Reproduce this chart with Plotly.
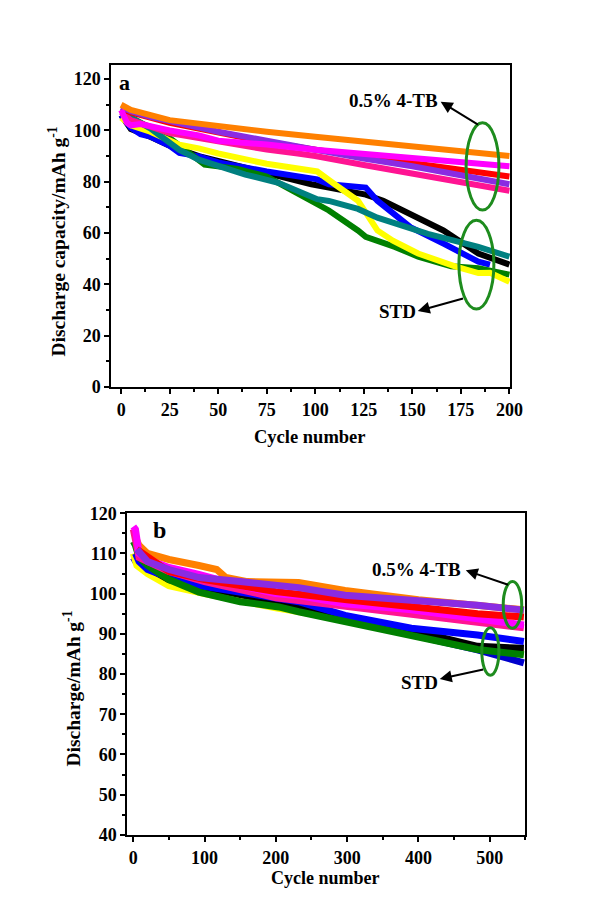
import plotly.graph_objects as go

# ---------------- Panel (a) data : 200 cycles ----------------
a_orange_x = [0, 5, 25, 50, 75, 100, 125, 150, 175, 200]
a_orange_y = [110, 108, 104, 101.5, 99.5, 97.5, 95.5, 93.5, 91.5, 90]

a_pink_x = [0, 5, 25, 50, 75, 91, 100, 125, 150, 175, 200]
a_pink_y = [107, 104, 99, 95.5, 92.5, 91, 90, 86.5, 83, 79.5, 76.5]

a_red_x = [0, 5, 25, 50, 75, 100, 125, 150, 175, 200]
a_red_y = [108.5, 107, 103, 99, 95.5, 92.5, 90, 87.5, 85, 82]

a_violet_x = [0, 5, 15, 25, 50, 75, 91, 100, 125, 150, 175, 200]
a_violet_y = [109, 107.5, 105.3, 103.5, 99.5, 96, 93.7, 92.5, 89, 86, 82.5, 79]

a_magenta_x = [0, 3, 5, 10, 25, 40, 50, 60, 75, 100, 125, 150, 175, 200]
a_magenta_y = [108, 103, 102, 102.5, 100, 98, 96, 95.5, 94.5, 92.5, 91, 89.5, 88, 86]

a_black_x = [0, 5, 15, 25, 40, 50, 75, 98, 107, 126, 135, 149, 166, 184, 200]
a_black_y = [106, 100.5, 97.5, 94, 90, 88, 83.5, 79, 77.7, 75, 72.6, 67.4, 61, 52, 47.7]

a_blue_x = [0, 5, 10, 15, 25, 30, 40, 50, 75, 91, 101, 107, 126, 132, 149, 166, 184, 190]
a_blue_y = [106, 101, 98.5, 97.6, 94, 91.2, 89.9, 87.5, 84, 82.2, 80.9, 79, 77.7, 72.6, 62.3, 55.9, 48.8, 47.7]

a_green_x = [0, 5, 15, 25, 43, 50, 60, 75, 91, 101, 107, 122, 126, 141, 153, 170, 184, 200]
a_green_y = [107, 105, 101, 97, 86.7, 86, 85, 82, 75.5, 71.3, 68.8, 61, 58.5, 54.6, 50.8, 47, 46.3, 43.8]

a_yellow_x = [0, 5, 15, 30, 40, 50, 75, 91, 101, 110, 122, 132, 140, 153, 165, 172, 184, 190, 200]
a_yellow_y = [105, 102, 99.5, 94.4, 93, 91, 87, 85.4, 84, 79, 72.6, 61, 57, 52, 48.5, 47, 44.4, 44.5, 41]

a_teal_x = [0, 5, 15, 30, 40, 50, 64, 81, 91, 101, 107, 122, 132, 158, 184, 200]
a_teal_y = [106.5, 105, 100.8, 92.4, 88.6, 86, 82.8, 79.6, 76.4, 73.2, 72.5, 69.4, 66, 59.7, 54.6, 50.8]

# ---------------- Panel (b) data : 550 cycles ----------------
b_darkblue_x = [0, 5, 20, 50, 100, 200, 300, 400, 483, 548]
b_darkblue_y = [109, 107.5, 105.5, 103, 101, 97.5, 93.5, 89.5, 86, 82.8]

b_yellow_x = [0, 5, 20, 50, 100, 200, 300, 400, 500, 548]
b_yellow_y = [110, 107, 105, 102, 100, 96.5, 93.5, 89.5, 86, 85.5]

b_black_x = [5, 20, 50, 100, 200, 300, 400, 483, 548]
b_black_y = [110, 106.5, 103.5, 101.5, 98, 94, 90.5, 86.9, 86.4]

b_blue_x = [3, 8, 20, 50, 92, 150, 204, 232, 297, 390, 483, 548]
b_blue_y = [110, 108, 106, 104, 102, 100.5, 98.7, 98, 94.6, 91.4, 89.7, 88.1]

b_green_x = [0, 3, 8, 20, 50, 92, 150, 204, 232, 297, 390, 483, 548]
b_green_y = [113, 112, 109, 107, 103.5, 100.4, 98, 96.7, 95.5, 93, 89.3, 86.1, 84.8]

b_orange_x = [3, 8, 20, 50, 92, 117, 130, 160, 232, 297, 400, 483, 548]
b_orange_y = [114, 112, 110, 108.5, 107, 106, 104, 103, 102.8, 100.8, 98.5, 97, 96]

b_pink_x = [0, 8, 50, 100, 200, 300, 400, 483, 548]
b_pink_y = [116, 109, 105.5, 103, 99, 96.8, 94.8, 93, 91.5]

b_magenta_x = [0, 3, 8, 20, 50, 92, 150, 200, 232, 297, 390, 483, 548]
b_magenta_y = [116.7, 116, 110, 108.5, 106.5, 104.8, 102, 100, 99.5, 97.5, 96, 93.8, 92.2]

b_red_x = [5, 50, 100, 200, 300, 400, 483, 548]
b_red_y = [111, 105.5, 103.5, 100.5, 98.5, 96.5, 95, 94.2]

b_violet_x = [5, 20, 50, 92, 150, 204, 232, 297, 390, 483, 548]
b_violet_y = [111, 108, 106, 104, 103, 102, 101.5, 99.6, 98.4, 97.1, 95.9]

# ---------------- Text ----------------
y_title_a = "Discharge capacity/mAh g<sup>-1</sup>"
y_title_b = "Discharge/mAh g<sup>-1</sup>"
x_title = "Cycle number"
label_tb = "0.5% 4-TB"
label_std = "STD"

FONT = "Liberation Serif, Times New Roman, Tinos, serif"

# the photographed page comes out slightly shrunk; place things in that frame
SX = 0.983 * 590
SY = 0.991 * 903
def px(x):
    return x / SX
def py(y):
    return 1 - y / SY

fig = go.Figure()

series_a = [
    (a_black_x, a_black_y, "#000000"),
    (a_blue_x, a_blue_y, "#0000FF"),
    (a_green_x, a_green_y, "#008000"),
    (a_yellow_x, a_yellow_y, "#FFFF00"),
    (a_teal_x, a_teal_y, "#008080"),
    (a_pink_x, a_pink_y, "#FF1493"),
    (a_red_x, a_red_y, "#FF0000"),
    (a_violet_x, a_violet_y, "#8A2BE2"),
    (a_magenta_x, a_magenta_y, "#FF00FF"),
    (a_orange_x, a_orange_y, "#FF8000"),
]
for xs, ys, c in series_a:
    fig.add_trace(go.Scatter(x=xs, y=ys, mode="lines", line=dict(color=c, width=6),
                             xaxis="x", yaxis="y", showlegend=False, hoverinfo="skip"))

series_b = [
    (b_darkblue_x, b_darkblue_y, "#0000CC"),
    (b_yellow_x, b_yellow_y, "#FFFF00"),
    (b_black_x, b_black_y, "#000000"),
    (b_blue_x, b_blue_y, "#0000FF"),
    (b_green_x, b_green_y, "#008000"),
    (b_orange_x, b_orange_y, "#FF8000"),
    (b_pink_x, b_pink_y, "#FF1493"),
    (b_magenta_x, b_magenta_y, "#FF00FF"),
    (b_red_x, b_red_y, "#FF0000"),
    (b_violet_x, b_violet_y, "#8A2BE2"),
]
for xs, ys, c in series_b:
    fig.add_trace(go.Scatter(x=xs, y=ys, mode="lines", line=dict(color=c, width=7),
                             xaxis="x2", yaxis="y2", showlegend=False, hoverinfo="skip"))

axis_common = dict(
    showline=True, linecolor="black", linewidth=2, mirror=True,
    ticks="outside", ticklen=5, tickwidth=2, tickcolor="black",
    showgrid=False, zeroline=False,
    tickfont=dict(family=FONT, size=18, color="black", weight="bold"),
)

fig.update_layout(
    width=590, height=903,
    margin=dict(l=0, r=0, t=0, b=0),
    paper_bgcolor="white", plot_bgcolor="white",
    font=dict(family=FONT, color="black"),
    xaxis=dict(domain=[px(112), px(513)], anchor="y", range=[-5, 200.5], tick0=0, dtick=25,
               minor=dict(ticks="outside", ticklen=3, tickwidth=1.5, dtick=12.5, tick0=0, tickcolor="black"),
               **axis_common),
    yaxis=dict(domain=[py(382), py(56)], anchor="x", range=[0, 125.4], tick0=0, dtick=20,
               minor=dict(ticks="outside", ticklen=3, tickwidth=1.5, dtick=10, tick0=0, tickcolor="black"),
               **axis_common),
    xaxis2=dict(domain=[px(128), px(528)], anchor="y2", range=[-8.4, 550], tick0=0, dtick=100,
                minor=dict(ticks="outside", ticklen=3, tickwidth=1.5, dtick=50, tick0=0, tickcolor="black"),
                **axis_common),
    yaxis2=dict(domain=[py(836), py(510)], anchor="x2", range=[40, 120], tick0=40, dtick=10,
                minor=dict(ticks="outside", ticklen=3, tickwidth=1.5, dtick=5, tick0=40, tickcolor="black"),
                **axis_common),
)

bold = lambda s: dict(family=FONT, size=s, color="black", weight="bold")

# Axis titles and panel letters
fig.add_annotation(text=y_title_a, xref="paper", yref="paper", x=px(57), y=py(235),
                   textangle=-90, showarrow=False, font=bold(19.5), xanchor="center", yanchor="middle")
fig.add_annotation(text=x_title, xref="paper", yref="paper", x=px(312), y=py(433),
                   showarrow=False, font=bold(18.5), xanchor="center", yanchor="middle")
fig.add_annotation(text=y_title_b, xref="paper", yref="paper", x=px(72), y=py(688),
                   textangle=-90, showarrow=False, font=bold(19.5), xanchor="center", yanchor="middle")
fig.add_annotation(text=x_title, xref="paper", yref="paper", x=px(327), y=py(880),
                   showarrow=False, font=bold(18), xanchor="center", yanchor="middle")
fig.add_annotation(text="a", xref="paper", yref="paper", x=px(125), y=py(73),
                   showarrow=False, font=bold(22), xanchor="center", yanchor="middle")
fig.add_annotation(text="b", xref="paper", yref="paper", x=px(160), y=py(527),
                   showarrow=False, font=bold(24), xanchor="center", yanchor="middle")

# Panel (a) labels, arrows and ellipses
fig.add_annotation(text=label_tb, x=140.5, y=111.5, xref="x", yref="y", showarrow=False, font=bold(19))
fig.add_annotation(text=label_std, x=142.3, y=29.6, xref="x", yref="y", showarrow=False, font=bold(19))
fig.add_annotation(text="", x=164.6, y=111.2, ax=184.6, ay=101.9, xref="x", yref="y", axref="x", ayref="y",
                   showarrow=True, arrowhead=2, arrowsize=1.2, arrowwidth=2, arrowcolor="black")
fig.add_annotation(text="", x=152.8, y=29.6, ax=176.9, ay=34.6, xref="x", yref="y", axref="x", ayref="y",
                   showarrow=True, arrowhead=2, arrowsize=1.2, arrowwidth=2, arrowcolor="black")
fig.add_shape(type="circle", xref="x", yref="y", x0=177.7, x1=194.6, y0=69, y1=103,
              line=dict(color="#1E8C1E", width=3))
fig.add_shape(type="circle", xref="x", yref="y", x0=174, x1=192, y0=30.4, y1=65,
              line=dict(color="#1E8C1E", width=3))

# Panel (b) labels, arrows and ellipses
fig.add_annotation(text=label_tb, x=398, y=106, xref="x2", yref="y2", showarrow=False, font=bold(19))
fig.add_annotation(text=label_std, x=402, y=77.8, xref="x2", yref="y2", showarrow=False, font=bold(19))
fig.add_annotation(text="", x=466.5, y=105.8, ax=528, ay=102.1, xref="x2", yref="y2", axref="x2", ayref="y2",
                   showarrow=True, arrowhead=2, arrowsize=1.2, arrowwidth=2, arrowcolor="black")
fig.add_annotation(text="", x=430, y=78.8, ax=493, ay=81.2, xref="x2", yref="y2", axref="x2", ayref="y2",
                   showarrow=True, arrowhead=2, arrowsize=1.2, arrowwidth=2, arrowcolor="black")
fig.add_shape(type="circle", xref="x2", yref="y2", x0=519, x1=545, y0=91.4, y1=103,
              line=dict(color="#1E8C1E", width=3))
fig.add_shape(type="circle", xref="x2", yref="y2", x0=489, x1=513, y0=79.7, y1=91.5,
              line=dict(color="#1E8C1E", width=3))

fig.write_html(
    "out.html",
    config={"displayModeBar": False},
    post_script=(
        "document.documentElement.style.margin='0';"
        "document.documentElement.style.overflow='hidden';"
        "document.body.style.margin='0';document.body.style.padding='0';"
        "document.body.style.overflow='hidden';"
        "var d=document.getElementById('{plot_id}');"
        "d.style.position='fixed';d.style.left='0px';d.style.top='0px';"
    ),
)
